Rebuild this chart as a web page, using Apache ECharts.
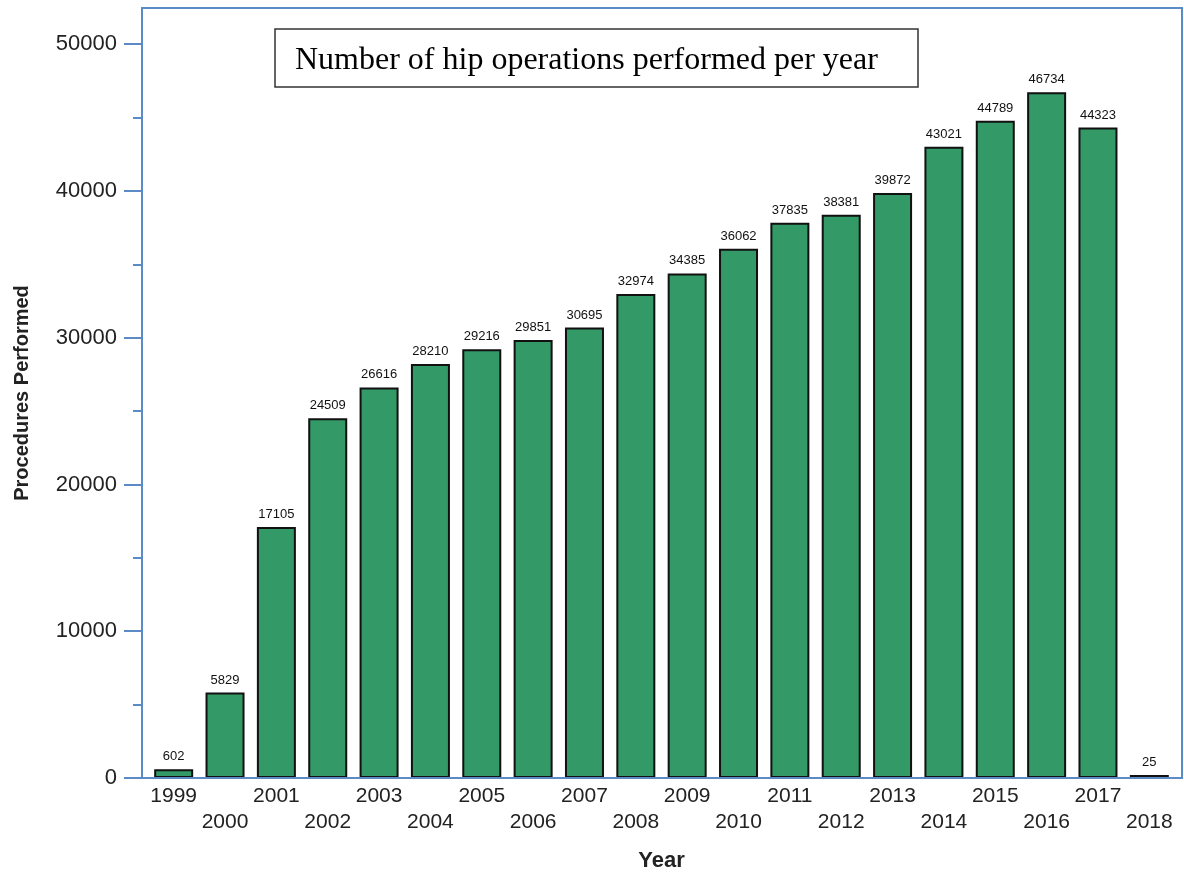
<!DOCTYPE html>
<html>
<head>
<meta charset="utf-8">
<script src="https://cdn.jsdelivr.net/npm/echarts@6/dist/echarts.min.js"></script>
<style>
  html, body { margin: 0; padding: 0; background: #fff; }
  #myChart { width: 1184px; height: 874px; }
</style>
</head>
<body>
<div id="myChart"></div>
<script>
// years on the x axis
var years = ['1999', '2000', '2001', '2002', '2003', '2004', '2005', '2006', '2007', '2008',
  '2009', '2010', '2011', '2012', '2013', '2014', '2015', '2016', '2017', '2018'];
// procedures performed per year
var procedures = [602, 5829, 17105, 24509, 26616, 28210, 29216, 29851, 30695, 32974,
  34385, 36062, 37835, 38381, 39872, 43021, 44789, 46734, 44323, 25];
// y tick values
var majorTicks = [0, 10000, 20000, 30000, 40000, 50000];
var minorTicks = [5000, 15000, 25000, 35000, 45000];

var blue = '#5b8bc6';
var sans = "'Liberation Sans', Arial, sans-serif";

var myChart = echarts.init(document.getElementById('myChart'));
var option = {
  animation: false,
  backgroundColor: '#fff',
  grid: { left: 148, top: 8, width: 1027, height: 770, outerBoundsMode: 'none', containLabel: false },
  xAxis: {
    type: 'category',
    data: years,
    name: 'Year',
    nameLocation: 'middle',
    nameGap: 72,
    nameTextStyle: { fontFamily: sans, fontWeight: 'bold', fontSize: 22, color: '#222' },
    axisLine: { show: false },
    axisTick: { show: false },
    axisLabel: {
      interval: 0,
      margin: 5,
      fontFamily: sans,
      fontSize: 21,
      color: '#222',
      lineHeight: 26,
      formatter: function (v, i) { return i % 2 ? '\n' + v : v; }
    }
  },
  yAxis: [{
    type: 'value',
    min: 0,
    max: 52470,
    offset: 6,
    name: 'Procedures Performed',
    nameLocation: 'middle',
    nameGap: 110,
    nameRotate: 90,
    nameTextStyle: { fontFamily: sans, fontWeight: 'bold', fontSize: 20, color: '#222' },
    splitLine: { show: false },
    axisLine: { show: false },
    axisTick: { show: true, length: 18, lineStyle: { color: blue, width: 2 }, customValues: majorTicks },
    axisLabel: {
      margin: 25, fontFamily: sans, fontSize: 22, color: '#222', customValues: majorTicks,
      formatter: function (v) { return String(v); }
    }
  }, {
    type: 'value',
    min: 0,
    max: 52470,
    offset: 6,
    position: 'left',
    splitLine: { show: false },
    axisLine: { show: false },
    axisTick: { show: true, length: 9, lineStyle: { color: blue, width: 2 }, customValues: minorTicks },
    axisLabel: { show: false }
  }],
  graphic: [{
    type: 'rect',
    shape: { x: 142, y: 8, width: 1040, height: 770 },
    style: { fill: 'none', stroke: blue, lineWidth: 2 },
    z: 100
  }, {
    type: 'rect',
    shape: { x: 275, y: 29, width: 643, height: 58 },
    style: { fill: '#fff', stroke: '#333', lineWidth: 1.5 },
    z: 100
  }, {
    type: 'text',
    x: 295, y: 61,
    style: {
      text: 'Number of hip operations performed per year',
      font: "32px 'Liberation Serif', 'Times New Roman', serif",
      fill: '#000',
      verticalAlign: 'middle'
    },
    z: 101
  }],
  series: [{
    type: 'bar',
    data: procedures,
    barWidth: 39,
    barMinHeight: 3,
    itemStyle: { color: '#339966', borderColor: '#111', borderWidth: 2 },
    label: {
      show: true,
      position: 'top',
      distance: 6,
      fontFamily: sans,
      fontSize: 13,
      color: '#111'
    }
  }]
};
myChart.setOption(option, true);
</script>
</body>
</html>
